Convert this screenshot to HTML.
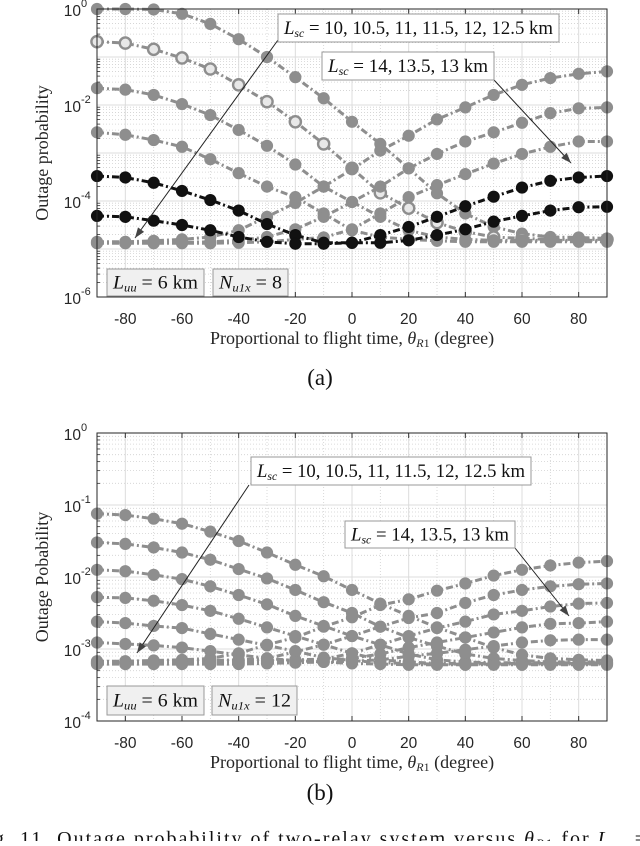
<!DOCTYPE html>
<html><head><meta charset="utf-8">
<style>
html,body{margin:0;padding:0;background:#fff;}
body{width:640px;height:841px;overflow:hidden;position:relative;}
svg text{font-family:"Liberation Serif",serif;}
.tick{font-family:"Liberation Sans",sans-serif;font-size:15.5px;fill:#262626;}
</style></head>
<body>
<svg id="fig" width="640" height="841" viewBox="0 0 640 841" xmlns="http://www.w3.org/2000/svg">
</svg>
<script>
// shared x categories (degrees)
const thetaDeg = [-90,-80,-70,-60,-50,-40,-30,-20,-10,0,10,20,30,40,50,60,70,80,90];
const xTickLabels = ["-80","-60","-40","-20","0","20","40","60","80"];
const xTickValues = [-80,-60,-40,-20,0,20,40,60,80];

// Panel (a) series: log10(outage probability)
const aFall1 = [0,0,-.01,-.10,-.31,-.63,-1.00,-1.42,-1.86,-2.35,-2.81,-3.32,-3.84,-4.26,-4.54,-4.68,-4.75,-4.76,-4.78];
const aFall2Open = [-.68,-.71,-.84,-1.02,-1.25,-1.58,-1.93,-2.35,-2.81,-3.32,-3.83,-4.15,-4.45,-4.64,-4.75,-4.78,-4.80,-4.80,-4.80];
const aFall3 = [-1.65,-1.68,-1.79,-1.98,-2.21,-2.52,-2.85,-3.24,-3.70,-4.02,-4.33,-4.61,-4.75,-4.80,-4.82,-4.82,-4.82,-4.82,-4.82];
const aFall4 = [-2.57,-2.62,-2.73,-2.87,-3.13,-3.42,-3.70,-3.92,-4.26,-4.61,-4.75,-4.80,-4.83,-4.85,-4.85,-4.85,-4.85,-4.85,-4.85];
const aBlack1 = [-3.48,-3.51,-3.62,-3.79,-3.98,-4.20,-4.48,-4.71,-4.87,-4.87,-4.87,-4.82,-4.71,-4.59,-4.43,-4.31,-4.20,-4.13,-4.12];
const aBlack2 = [-4.31,-4.33,-4.41,-4.50,-4.61,-4.75,-4.85,-4.89,-4.89,-4.87,-4.71,-4.54,-4.33,-4.11,-3.91,-3.72,-3.58,-3.51,-3.48];
const aRise1 = [-4.85,-4.85,-4.83,-4.80,-4.75,-4.61,-4.33,-4.04,-3.70,-3.34,-2.95,-2.64,-2.30,-2.05,-1.79,-1.58,-1.44,-1.35,-1.30];
const aRise2 = [-4.87,-4.87,-4.87,-4.86,-4.85,-4.82,-4.75,-4.59,-4.33,-4.02,-3.70,-3.32,-3.02,-2.76,-2.57,-2.37,-2.17,-2.07,-2.05];
const aRise3 = [-4.88,-4.88,-4.88,-4.88,-4.88,-4.87,-4.85,-4.80,-4.76,-4.59,-4.26,-3.92,-3.67,-3.44,-3.22,-3.02,-2.87,-2.76,-2.76];
const aYTickExp = [0,-2,-4,-6];

// Panel (b) series: log10(outage probability)
const bFall1 = [-1.12,-1.14,-1.19,-1.26,-1.37,-1.50,-1.66,-1.83,-1.99,-2.18,-2.37,-2.54,-2.70,-2.84,-2.98,-3.08,-3.13,-3.15,-3.16];
const bFall2 = [-1.52,-1.54,-1.59,-1.66,-1.76,-1.89,-2.02,-2.18,-2.35,-2.50,-2.69,-2.84,-2.96,-3.07,-3.13,-3.16,-3.18,-3.18,-3.18];
const bFall3 = [-1.90,-1.92,-1.97,-2.03,-2.13,-2.25,-2.38,-2.54,-2.68,-2.82,-2.94,-3.07,-3.15,-3.18,-3.19,-3.19,-3.19,-3.19,-3.19];
const bFall4 = [-2.28,-2.29,-2.33,-2.39,-2.47,-2.58,-2.70,-2.82,-2.94,-3.06,-3.15,-3.18,-3.20,-3.20,-3.20,-3.20,-3.20,-3.20,-3.20];
const bFall5 = [-2.62,-2.64,-2.68,-2.71,-2.79,-2.87,-2.95,-3.03,-3.12,-3.16,-3.19,-3.20,-3.21,-3.21,-3.21,-3.21,-3.21,-3.21,-3.21];
const bFall6 = [-2.91,-2.93,-2.95,-2.98,-3.03,-3.08,-3.13,-3.16,-3.18,-3.20,-3.21,-3.22,-3.22,-3.22,-3.22,-3.22,-3.22,-3.22,-3.22];
const bRise1 = [-3.17,-3.17,-3.16,-3.15,-3.13,-3.06,-2.94,-2.84,-2.69,-2.56,-2.39,-2.31,-2.19,-2.09,-1.98,-1.90,-1.84,-1.80,-1.78];
const bRise2 = [-3.18,-3.18,-3.18,-3.17,-3.16,-3.15,-3.13,-3.04,-2.94,-2.82,-2.69,-2.57,-2.50,-2.36,-2.25,-2.18,-2.13,-2.10,-2.09];
const bRise3 = [-3.19,-3.19,-3.19,-3.19,-3.18,-3.17,-3.16,-3.15,-3.14,-3.06,-2.94,-2.82,-2.71,-2.62,-2.52,-2.47,-2.41,-2.37,-2.36];
const bRise4 = [-3.20,-3.20,-3.20,-3.20,-3.20,-3.19,-3.18,-3.17,-3.16,-3.13,-3.07,-2.98,-2.91,-2.84,-2.77,-2.70,-2.65,-2.64,-2.62];
const bRise5 = [-3.21,-3.21,-3.21,-3.21,-3.21,-3.21,-3.20,-3.19,-3.18,-3.17,-3.15,-3.10,-3.06,-3.01,-2.96,-2.91,-2.88,-2.87,-2.87];
const bYTickExp = [0,-1,-2,-3,-4];

const NS = "http://www.w3.org/2000/svg";
const svg = document.getElementById('fig');
function mk(tag, attrs, parent){
  const e = document.createElementNS(NS, tag);
  for (const k in attrs) e.setAttribute(k, attrs[k]);
  (parent||svg).appendChild(e);
  return e;
}

function panel(cfg){
  const L=97, R=607, T=cfg.top, B=cfg.top+288;
  const xs = v => L + (v+90)/180*(R-L);
  const ys = lg => T + (cfg.yMax-lg)/(cfg.yMax-cfg.yMin)*(B-T);
  const g = mk('g',{});
  
  
  mk('rect',{x:L,y:T,width:R-L,height:B-T,fill:'#fff'},g);
  for (let d=cfg.yMin; d<cfg.yMax; d++){
    for (let m=2;m<=9;m++){
      const y = ys(d+Math.log10(m));
      mk('line',{x1:L,x2:R,y1:y,y2:y,stroke:'#d0d0d0','stroke-width':0.8,'stroke-dasharray':'1,2'},g);
      mk('line',{x1:L,x2:L+3,y1:y,y2:y,stroke:'#333','stroke-width':0.8},g);
    }
  }
  for (let v=-90; v<=90; v+=10){
    if (v%20===0) continue;
    const x=xs(v);
    mk('line',{x1:x,x2:x,y1:T,y2:B,stroke:'#d0d0d0','stroke-width':0.8,'stroke-dasharray':'1,2'},g);
  }
  for (let d=cfg.yMin; d<=cfg.yMax; d++){
    const y=ys(d);
    mk('line',{x1:L,x2:R,y1:y,y2:y,stroke:'#dcdcdc','stroke-width':1},g);
  }
  xTickValues.forEach(v=>{
    const x=xs(v);
    mk('line',{x1:x,x2:x,y1:T,y2:B,stroke:'#dcdcdc','stroke-width':1},g);
    mk('line',{x1:x,x2:x,y1:B,y2:B-5,stroke:'#333','stroke-width':1},g);
    mk('line',{x1:x,x2:x,y1:T,y2:T+5,stroke:'#333','stroke-width':1},g);
  });
  cfg.series.forEach(s=>{
    const sg = mk('g',{},g);
    
    
    const pts = thetaDeg.map((t,i)=>xs(t).toFixed(1)+','+ys(s.data[i]).toFixed(1)).join(' ');
    mk('polyline',{points:pts,fill:'none',stroke:s.color,'stroke-width':3,'stroke-dasharray':'7,3,2,3'},sg);
    thetaDeg.forEach((t,i)=>{
      const c = mk('circle',{cx:xs(t),cy:ys(s.data[i]),r:5.6,fill:s.open?'#e8e8e8':s.color,stroke:s.color,'stroke-width':s.open?2.4:1},sg);
      
      
    });
  });
  mk('rect',{x:L,y:T,width:R-L,height:B-T,fill:'none',stroke:'#262626','stroke-width':1},g);
  xTickValues.forEach((v,i)=>{
    const t = mk('text',{x:xs(v),y:B+27,'text-anchor':'middle',class:'tick'},g);
    t.textContent = xTickLabels[i];
    
    
  });
  cfg.yTicks.forEach(e=>{
    const y=ys(e);
    const t = mk('text',{x:81,y:y+7,'text-anchor':'end',class:'tick'},g);
    t.textContent='10';
    
    
    const s = mk('text',{x:81,y:y-2,class:'tick','style':'font-size:11px'},g);
    s.textContent = String(e);
  });
  const xl = mk('text',{x:352,y:B+47,'text-anchor':'middle','font-size':'18px',fill:'#262626'},g);
  
  
  xl.innerHTML = 'Proportional to flight time, <tspan font-style="italic">θ</tspan><tspan font-style="italic" font-size="12px" dy="3">R</tspan><tspan font-size="12px">1</tspan><tspan dy="-3"> (degree)</tspan>';
  const yl = mk('text',{x:0,y:0,'text-anchor':'middle','font-size':'18px',fill:'#262626',transform:`translate(48,${(T+B)/2}) rotate(-90)`},g);
  
  
  yl.textContent = cfg.yTitle;
  cfg.arrows.forEach(a=>{
    mk('line',{x1:a[0],y1:a[1],x2:a[2],y2:a[3],stroke:'#222','stroke-width':1},g);
    const ang=Math.atan2(a[3]-a[1],a[2]-a[0]), h=11, w=0.35;
    const p1=[a[2]-h*Math.cos(ang-w),a[3]-h*Math.sin(ang-w)];
    const p2=[a[2]-h*Math.cos(ang+w),a[3]-h*Math.sin(ang+w)];
    const ah = mk('polygon',{points:`${a[2]},${a[3]} ${p1} ${p2}`,fill:'#444'},g);
    
    
  });
  cfg.boxes.forEach(b=>{
    const bg = mk('g',{},g);
    
    
    mk('rect',{x:b.x,y:b.y,width:b.w,height:b.h,fill:b.fill,stroke:'#999','stroke-width':1},bg);
    const t = mk('text',{x:b.x+b.w/2,y:b.y+b.h/2+6,'text-anchor':'middle','font-size':'19px',fill:'#111','textLength':b.w-12,'lengthAdjust':'spacingAndGlyphs'},bg);
    t.innerHTML = b.html;
  });
}

const Lsc1 = '<tspan font-style="italic">L</tspan><tspan font-style="italic" font-size="12px" dy="3">sc</tspan><tspan dy="-3"> = 10, 10.5, 11, 11.5, 12, 12.5 km</tspan>';
const Lsc2 = '<tspan font-style="italic">L</tspan><tspan font-style="italic" font-size="12px" dy="3">sc</tspan><tspan dy="-3"> = 14, 13.5, 13 km</tspan>';
const Luu = '<tspan font-style="italic">L</tspan><tspan font-style="italic" font-size="12px" dy="3">uu</tspan><tspan dy="-3"> = 6 km</tspan>';
const Nu = n => '<tspan font-style="italic">N</tspan><tspan font-style="italic" font-size="12px" dy="3">u1x</tspan><tspan dy="-3"> = '+n+'</tspan>';

const GR='#8e8e8e', BK='#111';
panel({name:'panel-a',top:9,yMax:0,yMin:-6,yTicks:aYTickExp,yTitle:'Outage probability',
  series:[
    {name:'series-a-fall-1',data:aFall1,color:GR},
    {name:'series-a-fall-2',data:aFall2Open,color:GR,open:true},
    {name:'series-a-fall-3',data:aFall3,color:GR},
    {name:'series-a-fall-4',data:aFall4,color:GR},
    {name:'series-a-rise-1',data:aRise1,color:GR},
    {name:'series-a-rise-2',data:aRise2,color:GR},
    {name:'series-a-rise-3',data:aRise3,color:GR},
    {name:'series-a-black-1',data:aBlack1,color:BK},
    {name:'series-a-black-2',data:aBlack2,color:BK}],
  arrows:[[278,40,135,238],[494,80,571,163]],
  boxes:[{name:'lsc-annotation-1',x:278,y:14,w:281,h:28,fill:'#fff',html:Lsc1},
         {name:'lsc-annotation-2',x:322,y:52,w:172,h:28,fill:'#fff',html:Lsc2},
         {name:'luu-label',x:107,y:269,w:97,h:27,fill:'#f0f0f0',html:Luu},
         {name:'nu1x-label',x:213,y:269,w:75,h:27,fill:'#f0f0f0',html:Nu(8)}]});

panel({name:'panel-b',top:433,yMax:0,yMin:-4,yTicks:bYTickExp,yTitle:'Outage Pobability',
  series:[
    {name:'series-b-fall-1',data:bFall1,color:GR},
    {name:'series-b-fall-2',data:bFall2,color:GR},
    {name:'series-b-fall-3',data:bFall3,color:GR},
    {name:'series-b-fall-4',data:bFall4,color:GR},
    {name:'series-b-fall-5',data:bFall5,color:GR},
    {name:'series-b-fall-6',data:bFall6,color:GR},
    {name:'series-b-rise-1',data:bRise1,color:GR},
    {name:'series-b-rise-2',data:bRise2,color:GR},
    {name:'series-b-rise-3',data:bRise3,color:GR},
    {name:'series-b-rise-4',data:bRise4,color:GR},
    {name:'series-b-rise-5',data:bRise5,color:GR}],
  arrows:[[249,485,137,653],[515,548,569,616]],
  boxes:[{name:'lsc-annotation-1',x:251,y:457,w:280,h:28,fill:'#fff',html:Lsc1},
         {name:'lsc-annotation-2',x:345,y:521,w:170,h:27,fill:'#fff',html:Lsc2},
         {name:'luu-label',x:107,y:686,w:97,h:29,fill:'#f0f0f0',html:Luu},
         {name:'nu1x-label',x:212,y:686,w:85,h:29,fill:'#f0f0f0',html:Nu(12)}]});

const capA = mk('text',{x:320,y:385,'text-anchor':'middle','font-size':'23px',fill:'#111'});


capA.textContent='(a)';
const capB = mk('text',{x:320,y:800,'text-anchor':'middle','font-size':'23px',fill:'#111'});


capB.textContent='(b)';
const fig = mk('text',{x:-6,y:845,'font-size':'20px',fill:'#111','textLength':652,'lengthAdjust':'spacing'});


fig.innerHTML='g. 11.  Outage probability of two-relay system versus <tspan font-style="italic">θ</tspan><tspan font-style="italic" font-size="13px" dy="3">R</tspan><tspan font-size="13px">1</tspan><tspan dy="-3">  for  </tspan><tspan font-style="italic">L</tspan><tspan font-style="italic" font-size="13px" dy="3">uu</tspan><tspan dy="-3"> =</tspan>';
</script>
</body></html>
